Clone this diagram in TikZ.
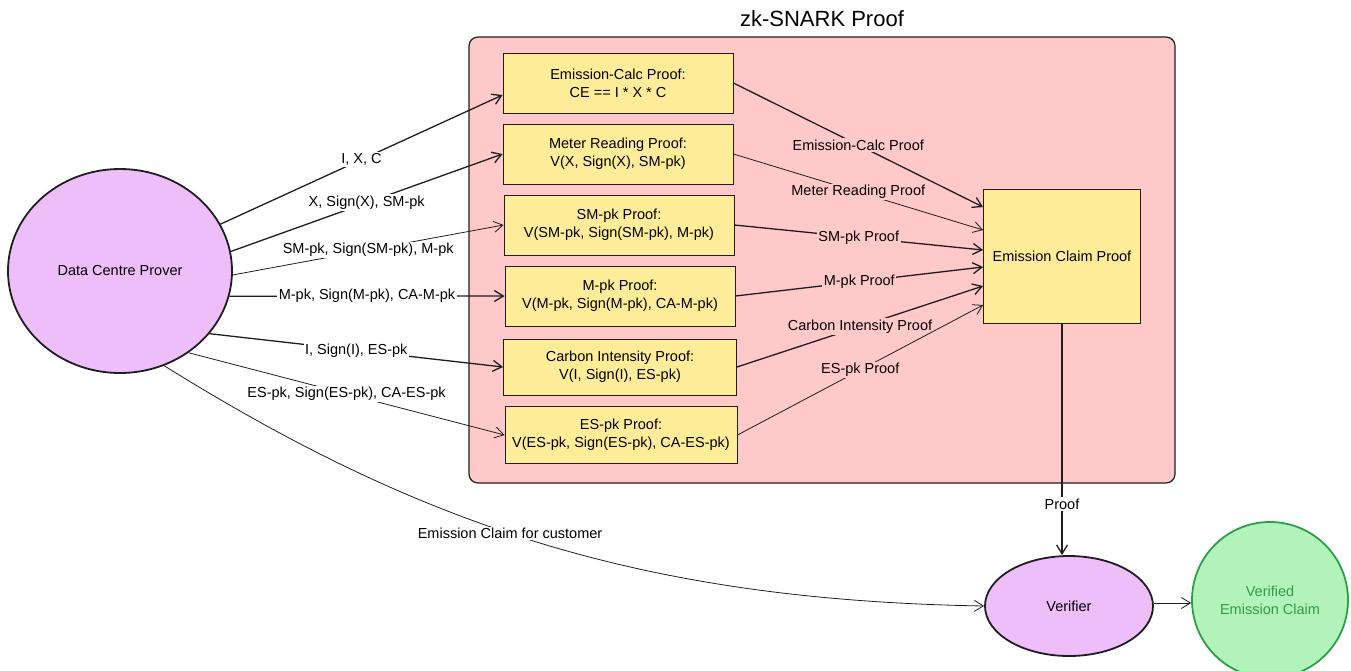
\documentclass[tikz,border=0pt]{standalone}
\usepackage{fontspec}
\setmainfont{Liberation Sans}
\usetikzlibrary{shapes.geometric,arrows.meta}
\definecolor{inkline}{HTML}{1E1E1E}
\definecolor{snarkpink}{HTML}{FFC9C9}
\definecolor{proofyellow}{HTML}{FFEC99}
\definecolor{agentviolet}{HTML}{EEBEFA}
\definecolor{okgreen}{HTML}{B2F2BB}
\definecolor{okline}{HTML}{2F9E44}
\def\boxfont{\fontsize{14.5}{18}\selectfont}
\tikzset{
  proofbox/.style={draw=inkline,line width=0.9pt,fill=proofyellow,align=center,
    minimum width=230,minimum height=60,inner sep=1pt,font=\boxfont},
  agent/.style={ellipse,draw=inkline,line width=1.8pt,fill=agentviolet,font=\boxfont},
  flow/.style={draw=inkline,line width=1.3pt,-{Straight Barb[length=9pt,width=11pt]}},
  thinflow/.style={flow,line width=0.8pt},
  lbl/.style={fill=white,inner sep=1.5pt,font=\boxfont},
  inlbl/.style={lbl,fill=snarkpink}
}

\begin{document}
\begin{tikzpicture}[x=1pt,y=-1pt]
  \useasboundingbox (0,0) rectangle (1351,670);
  \node[draw=inkline,line width=1.2pt,fill=snarkpink,rounded corners=9pt,
    minimum width=706,minimum height=446] (snark) at (822,260) {};
  \node[font=\fontsize{22}{24}\selectfont] (snarktitle) at (822,19) {zk-SNARK Proof};

  \node[proofbox] (calc) at (618,83) {Emission-Calc Proof:\\CE == I * X * C};
  \node[proofbox] (meter) at (618,154) {Meter Reading Proof:\\V(X, Sign(X), SM-pk)};
  \node[proofbox] (smpk) at (619,225) {SM-pk Proof:\\V(SM-pk, Sign(SM-pk), M-pk)};
  \node[proofbox] (mpk) at (620,296) {M-pk Proof:\\V(M-pk, Sign(M-pk), CA-M-pk)};
  \node[proofbox,minimum width=233,minimum height=56] (carbon) at (620,367) {Carbon Intensity Proof:\\V(I, Sign(I), ES-pk)};
  \node[proofbox,minimum width=232,minimum height=57] (espk) at (621,435) {ES-pk Proof:\\V(ES-pk, Sign(ES-pk), CA-ES-pk)};
  \node[proofbox,minimum width=157,minimum height=134] (claim) at (1062,256) {Emission Claim Proof};

  \node[agent,minimum width=224,minimum height=204] (prover) at (120,271) {Data Centre Prover};
  \node[agent,minimum width=168,minimum height=100] (verifier) at (1069,606) {Verifier};
  \node[circle,draw=okline,line width=1.8pt,fill=okgreen,text=okline,align=center,
    minimum size=156,font=\boxfont] (verified) at (1270,600) {Verified\\Emission Claim};

  \draw[flow] (prover.25) -- node[lbl] {I, X, C} ([yshift=-12pt]calc.west);
  \draw[flow] (prover.10) -- node[lbl] {X, Sign(X), SM-pk} (meter.west);
  \draw[thinflow] (prover.-2) -- node[lbl] {SM-pk, Sign(SM-pk), M-pk} (smpk.west);
  \draw[flow] (prover.-13) -- node[lbl] {M-pk, Sign(M-pk), CA-M-pk} (mpk.west);
  \draw[flow] (prover.-35) -- node[lbl] {I, Sign(I), ES-pk} (carbon.west);
  \draw[thinflow] (prover.-50) -- node[lbl] {ES-pk, Sign(ES-pk), CA-ES-pk} (espk.west);
  \draw[thinflow] (prover.-65) .. controls (420,525) and (640,600) ..
    node[lbl,pos=0.46] {Emission Claim for customer} (verifier.west);

  \draw[flow] (calc.east) -- node[inlbl] {Emission-Calc Proof} ([yshift=49pt]claim.west);
  \draw[thinflow] (meter.east) -- node[inlbl] {Meter Reading Proof} ([yshift=26pt]claim.west);
  \draw[flow] (smpk.east) -- node[inlbl] {SM-pk Proof} ([yshift=6pt]claim.west);
  \draw[flow] (mpk.east) -- node[inlbl] {M-pk Proof} ([yshift=-11pt]claim.west);
  \draw[flow] (carbon.east) -- node[inlbl] {Carbon Intensity Proof} ([yshift=-30pt]claim.west);
  \draw[thinflow] (espk.east) -- node[inlbl] {ES-pk Proof} ([yshift=-49pt]claim.west);

  \draw[flow] (claim.south) -- node[lbl,pos=0.78] {Proof} (claim.south |- verifier.north);
  \draw[thinflow] ([yshift=3pt]verifier.east) -- ([yshift=3pt]verifier.east -| verified.west);
\end{tikzpicture}
\end{document}
